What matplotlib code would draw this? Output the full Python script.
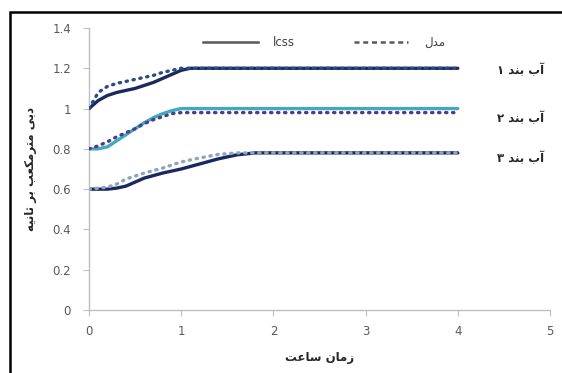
import matplotlib
matplotlib.use("Agg")
import matplotlib.pyplot as plt
from matplotlib.lines import Line2D
from matplotlib.patches import Rectangle

# ---------------- data ----------------
t_solid1 = [0, 0.1, 0.2, 0.3, 0.4, 0.5, 0.6, 0.7, 0.8, 0.9, 1.0, 1.1, 1.2, 4.0]
y_solid1 = [1.0, 1.04, 1.065, 1.08, 1.09, 1.10, 1.115, 1.13, 1.15, 1.17, 1.19, 1.2, 1.2, 1.2]
t_model1 = [0, 0.1, 0.2, 0.3, 0.4, 0.5, 0.6, 0.7, 0.8, 0.9, 1.0, 4.0]
y_model1 = [1.0, 1.08, 1.11, 1.125, 1.135, 1.145, 1.155, 1.165, 1.18, 1.19, 1.2, 1.2]

t_solid2 = [0, 0.1, 0.2, 0.3, 0.4, 0.5, 0.6, 0.7, 0.8, 0.9, 1.0, 4.0]
y_solid2 = [0.8, 0.8, 0.81, 0.84, 0.87, 0.90, 0.93, 0.955, 0.975, 0.99, 1.0, 1.0]
t_model2 = [0, 0.1, 0.2, 0.3, 0.4, 0.5, 0.6, 0.7, 0.8, 0.9, 1.0, 4.0]
y_model2 = [0.8, 0.815, 0.835, 0.86, 0.88, 0.9, 0.925, 0.945, 0.96, 0.975, 0.98, 0.98]

t_solid3 = [0, 0.2, 0.3, 0.4, 0.5, 0.6, 0.8, 1.0, 1.2, 1.4, 1.6, 1.8, 4.0]
y_solid3 = [0.6, 0.6, 0.605, 0.615, 0.635, 0.655, 0.68, 0.70, 0.725, 0.75, 0.77, 0.78, 0.78]
t_model3 = [0, 0.2, 0.3, 0.4, 0.5, 0.6, 0.8, 1.0, 1.2, 1.4, 1.6, 4.0]
y_model3 = [0.6, 0.61, 0.625, 0.65, 0.665, 0.68, 0.705, 0.735, 0.755, 0.772, 0.78, 0.78]

series_labels = ["آب بند ۱", "آب بند ۲", "آب بند ۳"]
label_y = [1.19, 0.95, 0.755]
legend_labels = ["lcss", "مدل"]
x_title = "زمان ساعت"
y_title = "دبی مترمکعب بر ثانیه"
x_ticks = [0, 1, 2, 3, 4, 5]
y_ticks = [0, 0.2, 0.4, 0.6, 0.8, 1.0, 1.2, 1.4]
y_ticklabels = ["0", "0.2", "0.4", "0.6", "0.8", "1", "1.2", "1.4"]

# ------------- simple Arabic/Persian shaping -------------
FORMS = {
    '\u0622': ('\uFE81', '\uFE82', None, None),
    '\u0627': ('\uFE8D', '\uFE8E', None, None),
    '\u0628': ('\uFE8F', '\uFE90', '\uFE91', '\uFE92'),
    '\u062A': ('\uFE95', '\uFE96', '\uFE97', '\uFE98'),
    '\u062B': ('\uFE99', '\uFE9A', '\uFE9B', '\uFE9C'),
    '\u062F': ('\uFEA9', '\uFEAA', None, None),
    '\u0631': ('\uFEAD', '\uFEAE', None, None),
    '\u0632': ('\uFEAF', '\uFEB0', None, None),
    '\u0633': ('\uFEB1', '\uFEB2', '\uFEB3', '\uFEB4'),
    '\u0639': ('\uFEC9', '\uFECA', '\uFECB', '\uFECC'),
    '\u06A9': ('\uFED9', '\uFEDA', '\uFEDB', '\uFEDC'),
    '\u0644': ('\uFEDD', '\uFEDE', '\uFEDF', '\uFEE0'),
    '\u0645': ('\uFEE1', '\uFEE2', '\uFEE3', '\uFEE4'),
    '\u0646': ('\uFEE5', '\uFEE6', '\uFEE7', '\uFEE8'),
    '\u0647': ('\uFEE9', '\uFEEA', '\uFEEB', '\uFEEC'),
    '\u06CC': ('\uFEEF', '\uFEF0', '\uFEF3', '\uFEF4'),
}


def shape_word(w):
    out = []
    n = len(w)
    for i, ch in enumerate(w):
        if ch not in FORMS:
            out.append(ch)
            continue
        f = FORMS[ch]
        jp = i > 0 and w[i - 1] in FORMS and FORMS[w[i - 1]][2] is not None
        jn = i < n - 1 and w[i + 1] in FORMS and f[2] is not None
        if jp and jn:
            out.append(f[3])
        elif jp:
            out.append(f[1])
        elif jn:
            out.append(f[2])
        else:
            out.append(f[0])
    return "".join(reversed(out))


def rtl(s):
    # right-to-left visual order for left-to-right drawing
    return " ".join(shape_word(w) for w in reversed(s.split(" ")))


FAM = ["DejaVu Sans", "Noto Sans"]

# ---------------- figure ----------------
W, H = 562, 373
fig = plt.figure(figsize=(W / 100, H / 100), dpi=100)
fig.patch.set_facecolor("white")
ax = fig.add_axes([89 / W, 1 - 310 / H, (550 - 89) / W, (310 - 28) / H])

navy = "#1B2A5E"
teal = "#45A9BC"
lw = 2.4
dot = dict(linestyle=(0, (0.4, 1.7)), dash_capstyle="round", lw=lw)

ax.plot(t_model1, y_model1, color="#2B4A86", zorder=3, **dot)
ax.plot(t_solid1, y_solid1, color=navy, lw=lw, solid_capstyle="round", zorder=2)
ax.plot(t_solid2, y_solid2, color=teal, lw=lw, solid_capstyle="round", zorder=2)
ax.plot(t_model2, y_model2, color="#4A3D8F", zorder=3, **dot)
ax.plot(t_model3, y_model3, color="#8EA4C2", zorder=3, **dot)
ax.plot(t_solid3, y_solid3, color=navy, lw=lw, solid_capstyle="round", zorder=2)

ax.set_xlim(0, 5)
ax.set_ylim(0, 1.4)
ax.set_xticks(x_ticks)
ax.set_yticks(y_ticks)
ax.set_yticklabels(y_ticklabels)
for s in ["top", "right"]:
    ax.spines[s].set_visible(False)
for s in ["left", "bottom"]:
    ax.spines[s].set_color("#BFBFBF")
    ax.spines[s].set_linewidth(1.0)
ax.tick_params(axis="both", colors="#BFBFBF", labelcolor="#595959",
               labelsize=8.5, length=4, direction="out")
ax.tick_params(axis="x", pad=7)
ax.tick_params(axis="y", pad=9)

for lab, yy in zip(series_labels, label_y):
    ax.text(4.42, yy, rtl(lab), fontsize=8.5, color="#262626",
            family=FAM, fontweight="bold", va="center", ha="left")

ax.set_xlabel(rtl(x_title), fontsize=8.5, fontweight="bold",
              color="#262626", family=FAM, labelpad=9)
ax.set_ylabel(rtl(y_title), fontsize=8.5, fontweight="bold",
              color="#262626", family=FAM, labelpad=11)

handles = [Line2D([], [], color="#595959", lw=1.8),
           Line2D([], [], color="#595959", lw=1.8, linestyle=(0, (2, 1.5)))]
leg = ax.legend(handles, [legend_labels[0], rtl(legend_labels[1])],
                loc="upper center", bbox_to_anchor=(0.51, 1.01), ncol=2,
                frameon=False, handlelength=4.6, handletextpad=1.3,
                columnspacing=5.0, prop={"family": FAM, "size": 8.5})
for txt in leg.get_texts():
    txt.set_color("#404040")

# outer black frame (as in the screenshot)
fig.add_artist(Rectangle((10 / W, -0.05), 1.2, 1 - 12 / H + 0.05,
                         transform=fig.transFigure, fill=False,
                         edgecolor="black", lw=1.8))

fig.savefig("out.png", dpi=100)
